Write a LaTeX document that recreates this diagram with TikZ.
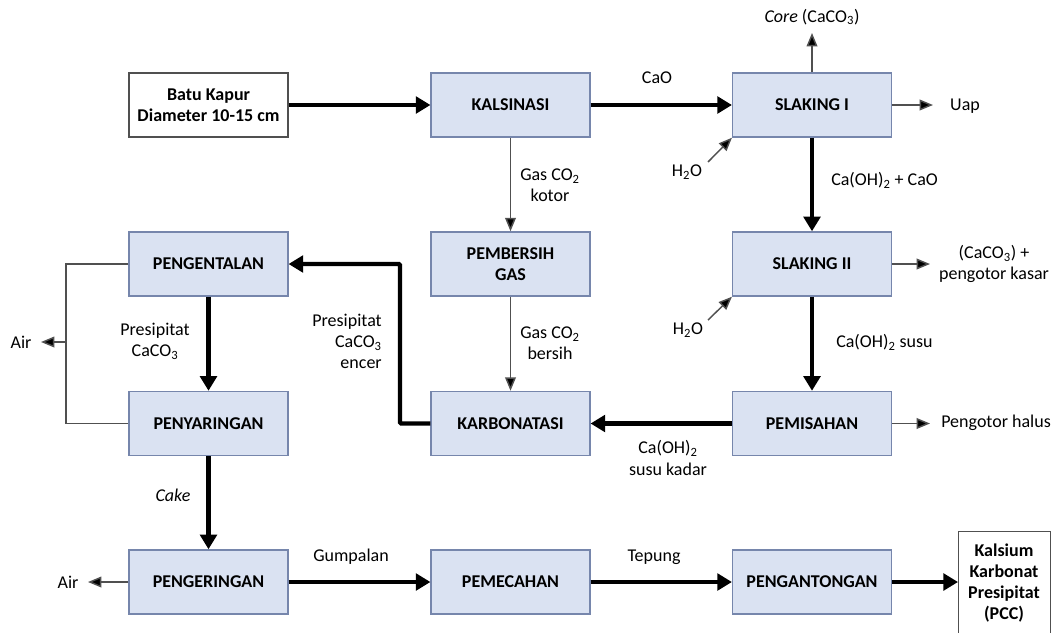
\documentclass[tikz,border=0pt]{standalone}
\usepackage{fontspec}
\setmainfont{Carlito}
\usetikzlibrary{arrows.meta}
\definecolor{boxfill}{RGB}{218,226,242}
\definecolor{boxline}{RGB}{118,134,172}
\definecolor{thinline}{RGB}{80,80,80}
\tikzset{
  proc/.style={draw=boxline, fill=boxfill, line width=1.1pt, minimum width=119pt, minimum height=48pt,
    align=center, inner sep=0pt, font=\bfseries\fontsize{13.5}{16}\selectfont},
  whitebox/.style={draw=thinline, fill=white, line width=1.1pt, minimum width=119pt, minimum height=48pt,
    align=center, inner sep=0pt, font=\bfseries\fontsize{13.5}{16}\selectfont},
  lbl/.style={align=center, inner sep=0pt, font=\fontsize{13.5}{15.8}\selectfont},
  bigarrow/.style={line width=3.3pt, -{Triangle[length=11pt,width=12.5pt]}},
  smallarrow/.style={draw=thinline, line width=1.1pt, -{Triangle[length=10pt,width=8pt,fill=black]}},
  smallline/.style={draw=thinline, line width=1.1pt},
}
\begin{document}
\begin{tikzpicture}[x=0.75pt,y=-0.75pt]
\useasboundingbox (0,0) rectangle (1052,632);
\clip (0,0) rectangle (1052,632);
% boxes
\node[whitebox] (batu) at (208.5,105) {Batu Kapur\\Diameter 10-15 cm};
\node[proc] (kals) at (510.5,105) {KALSINASI};
\node[proc] (sl1) at (812,105) {SLAKING I};
\node[proc] (pemb) at (510.5,264) {PEMBERSIH\\GAS};
\node[proc] (sl2) at (812,264) {SLAKING II};
\node[proc] (pgtl) at (208.5,264) {PENGENTALAN};
\node[proc] (pnyr) at (208.5,423.5) {PENYARINGAN};
\node[proc] (karb) at (510.5,423.5) {KARBONATASI};
\node[proc] (pmsh) at (812,423.5) {PEMISAHAN};
\node[proc] (pgrg) at (208.5,582) {PENGERINGAN};
\node[proc] (pmch) at (510.5,582) {PEMECAHAN};
\node[proc] (pgtg) at (812,582) {PENGANTONGAN};
\node[whitebox, minimum width=69pt, minimum height=100pt, anchor=north west] (pcc) at (958,531) {};
\node[lbl, font=\bfseries\fontsize{13.5}{15.6}\selectfont] (pcct) at (1004,583) {Kalsium\\Karbonat\\Presipitat\\(PCC)};

% labels
\node[lbl] (cao) at (657,78) {CaO};
\node[lbl] (core) at (812,17) {\textit{Core} (CaCO\textsubscript{3})};
\node[lbl] (uap) at (965,106) {Uap};
\node[lbl] (h2oa) at (687,172) {H\textsubscript{2}O};
\node[lbl, anchor=west] (cohcao) at (831,180) {Ca(OH)\textsubscript{2} + CaO};
\node[lbl] (kasar) at (994,264) {(CaCO\textsubscript{3}) +\\pengotor kasar};
\node[lbl] (h2ob) at (688,330) {H\textsubscript{2}O};
\node[lbl, anchor=west] (susu) at (836,342) {Ca(OH)\textsubscript{2} susu};
\node[lbl, anchor=west] (halus) at (941,423) {Pengotor halus};
\node[lbl] (kadar) at (668,458) {Ca(OH)\textsubscript{2}\\susu kadar};
\node[lbl] (kotor) at (550,185) {Gas CO\textsubscript{2}\\kotor};
\node[lbl] (bersih) at (550,343) {Gas CO\textsubscript{2}\\bersih};
\node[lbl, align=right, anchor=east] (encer) at (382,341) {Presipitat\\CaCO\textsubscript{3}\\encer};
\node[lbl] (presi) at (155,341) {Presipitat\\CaCO\textsubscript{3}};
\node[lbl] (aira) at (21,342) {Air};
\node[lbl] (cake) at (173,495) {\textit{Cake}};
\node[lbl] (airb) at (68,582) {Air};
\node[lbl] (gump) at (351,557) {Gumpalan};
\node[lbl] (tep) at (654,557) {Tepung};

% coordinates
\coordinate (coreend) at (812,33);
\coordinate (uapend) at (933,105);
\coordinate (kasarend) at (930,264);
\coordinate (halusend) at (930,423.5);
\coordinate (h2oaS) at (708,162);
\coordinate (h2obS) at (708,320);
\coordinate (bendA) at (400,423.5);
\coordinate (bendB) at (400,264);
\coordinate (brA) at (66,264);
\coordinate (brB) at (66,423.5);
\coordinate (brM) at (66,342);
\coordinate (airaend) at (41,342);
\coordinate (airbend) at (88,582);

% thick arrows
\draw[bigarrow] (batu.east) -- (kals.west);
\draw[bigarrow] (kals.east) -- (sl1.west);
\draw[bigarrow] (sl1.south) -- (sl2.north);
\draw[bigarrow] (sl2.south) -- (pmsh.north);
\draw[bigarrow] (pmsh.west) -- (karb.east);
\draw[bigarrow, rounded corners=1pt] (karb.west) -- (bendA) -- (bendB) -- (pgtl.east);
\draw[bigarrow] (pgtl.south) -- (pnyr.north);
\draw[bigarrow] (pnyr.south) -- (pgrg.north);
\draw[bigarrow] (pgrg.east) -- (pmch.west);
\draw[bigarrow] (pmch.east) -- (pgtg.west);
\draw[bigarrow] (pgtg.east) -- (pcc.west |- pgtg.east);

% thin arrows
\draw[smallarrow] (sl1.north) -- (coreend);
\draw[smallarrow] (sl1.east) -- (uapend);
\draw[smallarrow] (h2oaS) -- (sl1.south west);
\draw[smallarrow] (sl2.east) -- (kasarend);
\draw[smallarrow] (h2obS) -- (sl2.south west);
\draw[smallarrow] (pmsh.east) -- (halusend);
\draw[smallarrow] (kals.south) -- (pemb.north);
\draw[smallarrow] (pemb.south) -- (karb.north);
\draw[smallline] (pgtl.west) -- (brA) -- (brB) -- (pnyr.west);
\draw[smallarrow] (brM) -- (airaend);
\draw[smallarrow] (pgrg.west) -- (airbend);
\end{tikzpicture}
\end{document}
